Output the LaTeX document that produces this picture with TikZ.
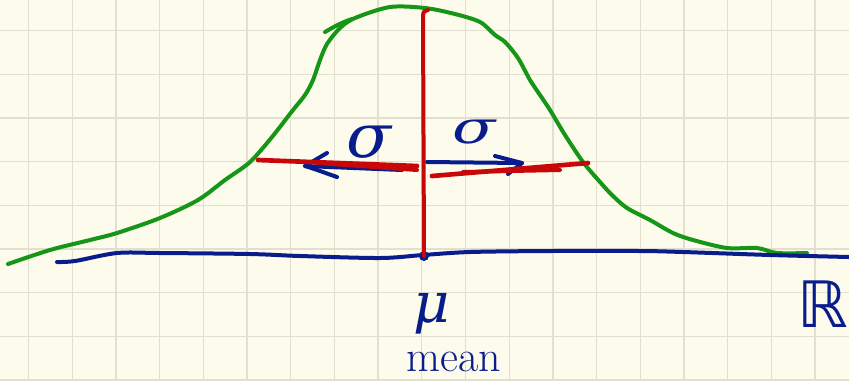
\documentclass[tikz,border=0pt]{standalone}
\usepackage{fontspec}
\newfontfamily\grk{DejaVu Serif}
\newfontfamily\symf{DejaVu Sans}
\definecolor{paper}{RGB}{253,251,236}
\definecolor{gridc}{RGB}{226,223,208}
\definecolor{pgreen}{RGB}{22,150,22}
\definecolor{pred}{RGB}{200,8,8}
\definecolor{pblue}{RGB}{8,28,140}
\tikzset{
  pen/.style={line width=3pt, line cap=round, line join=round},
  greenpen/.style={pen, draw=pgreen},
  redpen/.style={pen, draw=pred},
  bluepen/.style={pen, draw=pblue},
  hand/.style={text=pblue, inner sep=0pt},
}
\begin{document}
\begin{tikzpicture}[x=0.75pt,y=-0.75pt]
\fill[paper] (0,0) rectangle (849,380);
\useasboundingbox (0,0) rectangle (849,380);
\foreach \i in {0,...,18} {\draw[gridc, line width=1pt] ({28.5+43.7*\i},0) -- ({28.5+43.7*\i},380);}
\foreach \j in {0,...,8} {\draw[gridc, line width=1pt] (0,{30.5+43.7*\j}) -- (849,{30.5+43.7*\j});}
% bell curve
\draw[greenpen] plot[smooth, tension=0.5] coordinates {(8,264) (50,250) (90,240) (117,233) (160,218) (198,200) (225,180) (250,162) (272,137) (293,110) (305,95) (313,80) (320,60) (327,44) (340,28) (355,18) (390,7) (425,8) (455,14) (480,22) (495,35) (505,42) (518,58) (530,80) (540,95) (550,110) (565,135) (583,162) (600,182) (612,195) (627,208) (650,220) (673,233) (693,240) (727,248) (757,248) (777,253) (807,253)};
\draw[greenpen] (325,32) .. controls (335,26) and (343,22) .. (352,19);
% real axis
\draw[bluepen] plot[smooth, tension=0.5] coordinates {(57,262) (75,261) (117,253) (160,253) (250,254) (300,256) (380,258) (423,255) (470,252) (550,251) (640,251) (683,252) (770,255) (849,257)};
\coordinate (m) at (424,256);
\fill[pblue] (m) circle (5);
% sigma arrows
\coordinate (lt) at (305,166);
\coordinate (rt) at (522,163);
\draw[bluepen] (402,170) -- (lt);
\draw[bluepen] (327,153) -- (lt) .. controls (318,170) and (328,174) .. (337,177);
\draw[bluepen] (427,162) -- (rt);
\draw[bluepen] (495,156) -- (rt) -- (508,174);
% red mean line and spread
\draw[redpen] (m) -- (423,16) .. controls (423,12) and (425,10) .. (428,10);
\draw[redpen, line width=3.5pt] (258,160) -- (417,166);
\draw[redpen] (317,163) -- (417,170);
\draw[redpen, line width=3.5pt] (432,176) -- (588,163);
\draw[redpen] (463,172) -- (560,170);
% labels
\node[hand, font=\grk\itshape\fontsize{38}{38}\selectfont, anchor=base] (sl) at (369,157) {\scalebox{1.3}[1.2]{σ}};
\node[hand, font=\grk\itshape\fontsize{34}{34}\selectfont, anchor=base] (sr) at (474,143) {\scalebox{1.4}[1]{σ}};
\node[hand, font=\grk\itshape\fontsize{42}{42}\selectfont, anchor=base] (mu) at (432,322) {μ};
\node[hand, font=\fontsize{33}{33}\selectfont, anchor=base west] (mean) at (406,371) {mean};
\node[hand, font=\symf\fontsize{48}{48}\selectfont] (R) at (823,304) {ℝ};
\end{tikzpicture}
\end{document}
